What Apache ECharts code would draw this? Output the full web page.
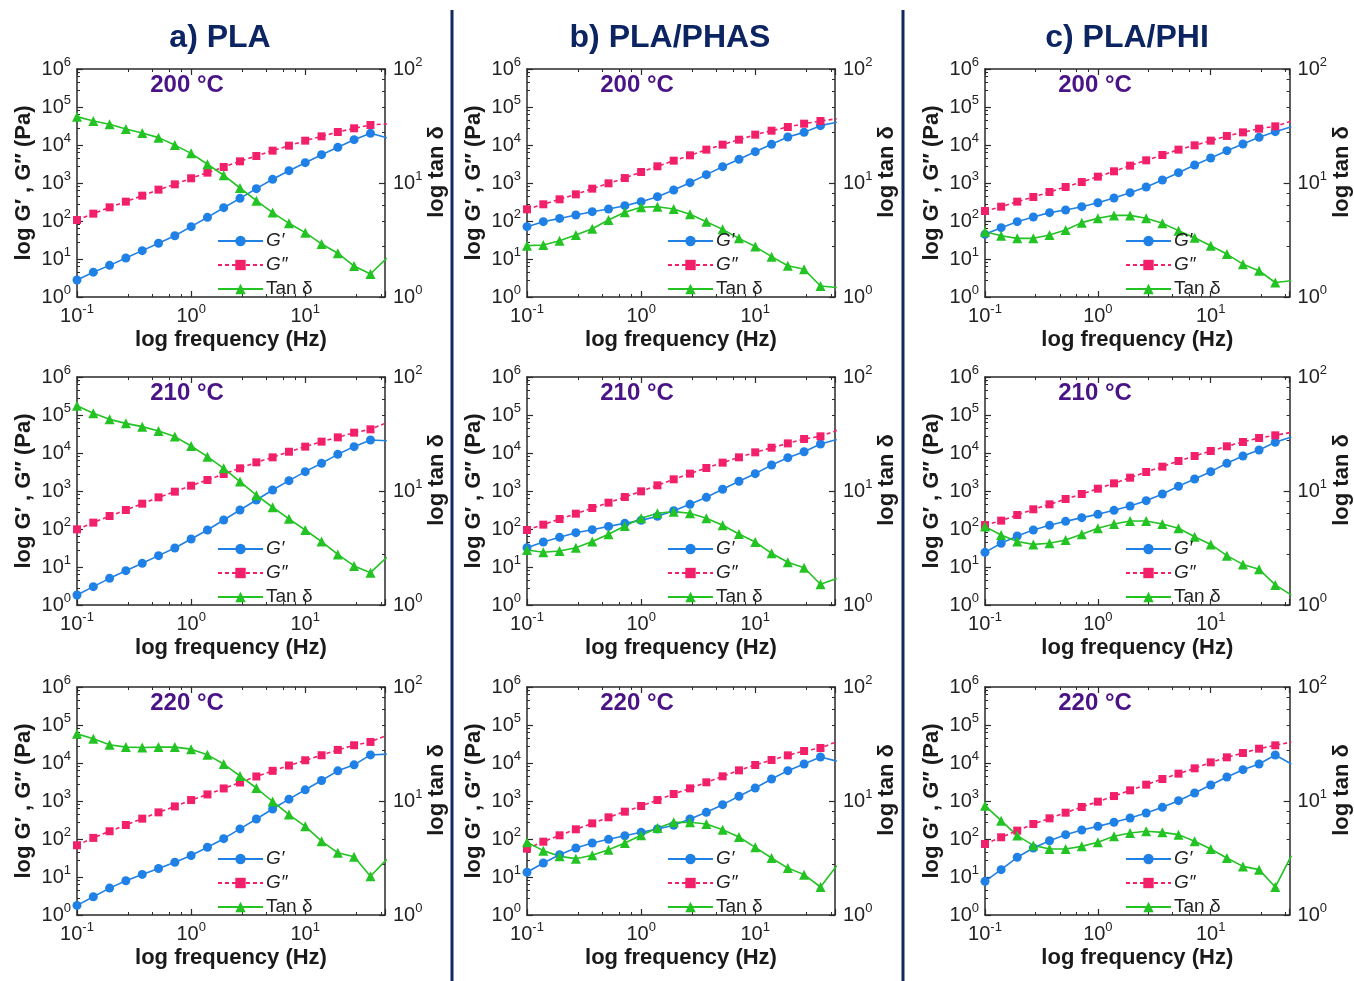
<!DOCTYPE html>
<html>
<head>
<meta charset="utf-8">
<script src="https://cdn.jsdelivr.net/npm/echarts@6/dist/echarts.min.js"></script>
<style>
html, body { margin: 0; padding: 0; background: #fff; }
#chart { width: 1354px; height: 981px; }
</style>
</head>
<body>
<div id="chart"></div>
<script>
// frequency sweep (Hz), 7 points per decade; last point sits just past the axis end
const freq = [0.1, 0.139, 0.193, 0.268, 0.373, 0.518, 0.72, 1, 1.39, 1.93, 2.68, 3.73, 5.18, 7.2, 10, 13.9, 19.3, 26.8, 37.3, 51.8];

// a) PLA
const pla200Gp  = [2.8, 4.5, 6.8, 10.6, 16.6, 26, 41, 71, 125, 224, 395, 710, 1250, 2110, 3430, 5570, 8690, 13800, 20300, 15500];
const pla200Gpp = [106, 156, 229, 323, 464, 668, 923, 1330, 1870, 2640, 3720, 5140, 7100, 9600, 13000, 16900, 22000, 27500, 33600, 36000];
const pla200Tan = [38.2, 35, 32.7, 29.8, 27.5, 25, 21.5, 18.2, 14.6, 11.7, 9.04, 7.0, 5.5, 4.43, 3.67, 2.92, 2.42, 1.87, 1.59, 2.19];

const pla210Gp  = [1.83, 3.04, 5.03, 8.0, 12.5, 19.9, 31.6, 54.6, 94, 173, 316, 580, 1060, 1870, 3230, 5350, 9220, 14700, 22000, 21000];
const pla210Gpp = [98, 147, 220, 316, 464, 681, 960, 1380, 1950, 2800, 3950, 5680, 7690, 10800, 14700, 19900, 25800, 34300, 42000, 63000];
const pla210Tan = [56, 48, 42.5, 39.2, 36.7, 33.6, 30, 24.8, 20, 15.8, 12.1, 9.2, 7.2, 5.7, 4.55, 3.6, 2.78, 2.2, 1.92, 2.62];

const pla220Gp  = [1.79, 3.03, 5.1, 7.95, 11.7, 16.7, 24.5, 36.7, 60.7, 102, 184, 336, 614, 1120, 1970, 3470, 6220, 8940, 16300, 17100];
const pla220Gpp = [68.5, 107, 160, 234, 343, 502, 721, 1060, 1490, 2140, 3070, 4420, 6220, 8590, 11800, 16000, 22100, 29300, 35800, 53800];
const pla220Tan = [38.8, 35.1, 31.1, 29.7, 29.5, 29.7, 29.7, 28.5, 25.4, 21.1, 16.6, 13.0, 9.9, 7.6, 6.0, 4.44, 3.51, 3.24, 2.19, 3.08];

// b) PLA/PHAS
const phas200Gp  = [71, 96, 117, 144, 176, 207, 253, 323, 437, 654, 1020, 1660, 2690, 4200, 6680, 10400, 16200, 21500, 32300, 39500];
const phas200Gpp = [203, 275, 372, 503, 710, 980, 1350, 1950, 2750, 3870, 5350, 7540, 10200, 13800, 18700, 23800, 29800, 36400, 42800, 49000];
const phas200Tan = [2.82, 2.86, 3.12, 3.5, 3.97, 4.73, 5.53, 6.12, 6.2, 5.92, 5.31, 4.58, 3.92, 3.27, 2.77, 2.26, 1.88, 1.75, 1.25, 1.21];

const phas210Gp  = [32.3, 45.5, 60.4, 80, 96, 117, 141, 169, 215, 303, 446, 681, 1110, 1800, 2860, 4830, 7540, 10800, 17300, 22600];
const phas210Gpp = [94, 130, 183, 253, 357, 493, 695, 980, 1410, 2030, 2860, 4030, 5570, 7690, 10400, 13800, 17900, 23400, 27500, 39400];
const phas210Tan = [3.04, 2.9, 2.98, 3.18, 3.6, 4.17, 4.93, 5.76, 6.37, 6.59, 6.37, 5.76, 5.0, 4.2, 3.57, 2.84, 2.37, 2.12, 1.52, 1.71];

const phas220Gp  = [13.3, 23.4, 38.7, 58, 78.5, 98, 122, 150, 183, 229, 336, 503, 801, 1330, 2200, 3790, 6290, 9420, 14400, 11200];
const phas220Gpp = [55.7, 85, 125, 180, 258, 372, 524, 738, 1060, 1530, 2150, 3100, 4460, 6410, 8850, 12000, 15900, 20700, 24800, 36500];
const phas220Tan = [4.34, 3.67, 3.27, 3.12, 3.34, 3.74, 4.28, 5.0, 5.8, 6.5, 6.5, 6.28, 5.6, 4.83, 3.92, 3.16, 2.58, 2.26, 1.76, 2.71];

// c) PLA/PHI
const phi200Gp  = [44.6, 66.8, 96, 127, 166, 195, 238, 303, 403, 557, 785, 1200, 1870, 2980, 4550, 7100, 10600, 15900, 22400, 30100];
const phi200Gpp = [183, 238, 323, 428, 580, 785, 1060, 1470, 2030, 2860, 3950, 5460, 7540, 9800, 13000, 17300, 21500, 26900, 31000, 42600];
const phi200Tan = [3.74, 3.45, 3.27, 3.27, 3.5, 3.87, 4.49, 4.9, 5.2, 5.2, 4.9, 4.43, 3.82, 3.31, 2.82, 2.38, 1.94, 1.7, 1.34, 1.39];

const phi210Gp  = [24.3, 42, 65.5, 94, 125, 159, 199, 243, 310, 403, 557, 834, 1330, 2070, 3230, 5350, 8340, 12000, 19100, 26200];
const phi210Gpp = [127, 166, 234, 330, 446, 615, 834, 1150, 1590, 2240, 3160, 4370, 6150, 8340, 11300, 15000, 19500, 24800, 29200, 34900];
const phi210Tan = [4.87, 4.11, 3.6, 3.4, 3.48, 3.72, 4.17, 4.71, 5.14, 5.46, 5.46, 5.14, 4.71, 3.97, 3.4, 2.71, 2.27, 2.06, 1.5, 1.22];

const phi220Gp  = [7.69, 15.6, 33, 58, 90, 130, 173, 215, 275, 357, 483, 681, 1020, 1620, 2640, 4280, 6680, 9420, 16200, 9440];
const phi220Gpp = [73.8, 111, 166, 248, 350, 493, 695, 960, 1350, 1910, 2690, 3790, 5240, 7240, 10400, 14100, 18300, 23800, 29200, 35700];
const phi220Tan = [9.1, 6.72, 4.97, 4.08, 3.79, 3.79, 4.0, 4.34, 4.9, 5.24, 5.42, 5.31, 5.07, 4.43, 3.79, 3.16, 2.67, 2.5, 1.76, 3.31];

const columnTitles = ['a) PLA', 'b) PLA/PHAS', 'c) PLA/PHI'];
const temps = ['200 °C', '210 °C', '220 °C'];
const seriesNames = ['G′', 'G″', 'Tan δ'];

const panels = [
  [pla200Gp, pla200Gpp, pla200Tan], [pla210Gp, pla210Gpp, pla210Tan], [pla220Gp, pla220Gpp, pla220Tan],
  [phas200Gp, phas200Gpp, phas200Tan], [phas210Gp, phas210Gpp, phas210Tan], [phas220Gp, phas220Gpp, phas220Tan],
  [phi200Gp, phi200Gpp, phi200Tan], [phi210Gp, phi210Gpp, phi210Tan], [phi220Gp, phi220Gpp, phi220Tan]
];

const FONT = '"Liberation Sans", Arial, sans-serif';
const colLeft = [77, 527, 985];
const rowTop = [69, 377, 687];
const gw = 308, gh = 228;
const axisColor = '#2a2a2a';
const cBlue = '#1f80e6', cPink = '#f2206b', cGreen = '#22c322';

const powLabel = v => '{b|10}{s|' + Math.round(Math.log10(v)) + '}';
const powRich = {
  b: { fontSize: 20, lineHeight: 26, color: '#222', fontFamily: FONT },
  s: { fontSize: 13, lineHeight: 14, verticalAlign: 'top', color: '#222', fontFamily: FONT }
};
const nameStyle = { fontSize: 22, fontWeight: 'bold', color: '#1a1a1a', fontFamily: FONT };
const lineAx = { lineStyle: { color: axisColor, width: 1.5 } };
const tickIn = { inside: true, length: 6, lineStyle: { color: axisColor, width: 1.2 } };
const minorIn = { show: true, length: 3, lineStyle: { color: axisColor, width: 1 } };

const grid = [], xAxis = [], yAxis = [], series = [], legend = [], graphic = [];

panels.forEach((p, i) => {
  const col = Math.floor(i / 3), row = i % 3;
  const left = colLeft[col], top = rowTop[row];
  grid.push({ left: left, top: top, width: gw, height: gh });

  xAxis.push({
    type: 'log', gridIndex: i, min: 0.1, max: 50,
    name: 'log frequency (Hz)', nameLocation: 'middle', nameGap: 32, nameTextStyle: nameStyle,
    axisLine: lineAx, axisTick: tickIn, minorTick: minorIn, splitLine: { show: false },
    axisLabel: { formatter: powLabel, rich: powRich, margin: 6, showMaxLabel: false }
  });
  xAxis.push({
    type: 'log', gridIndex: i, min: 0.1, max: 50, position: 'top',
    axisLine: lineAx, axisTick: tickIn, minorTick: minorIn, splitLine: { show: false },
    axisLabel: { show: false }
  });
  yAxis.push({
    type: 'log', gridIndex: i, min: 1, max: 1e6, position: 'left',
    name: 'log G′ , G″ (Pa)', nameLocation: 'middle', nameGap: 42, nameRotate: 90, nameTextStyle: nameStyle,
    axisLine: lineAx, axisTick: tickIn, minorTick: minorIn, splitLine: { show: false },
    axisLabel: { formatter: powLabel, rich: powRich, margin: 6 }
  });
  yAxis.push({
    type: 'log', gridIndex: i, min: 1, max: 100, position: 'right',
    name: 'log tan δ', nameLocation: 'middle', nameGap: 38, nameRotate: 90,
    nameTextStyle: Object.assign({}, nameStyle, { padding: [0, 0, 0, 22] }),
    axisLine: lineAx, axisTick: tickIn, minorTick: minorIn, splitLine: { show: false },
    axisLabel: { formatter: powLabel, rich: powRich, margin: 8 }
  });

  const mk = k => freq.map((f, j) => [f, p[k][j]]);
  series.push({
    name: 'G′', type: 'line', xAxisIndex: 2 * i, yAxisIndex: 2 * i, data: mk(0),
    symbol: 'circle', symbolSize: 9, color: cBlue, lineStyle: { width: 1.6, color: cBlue }
  });
  series.push({
    name: 'G″', type: 'line', xAxisIndex: 2 * i, yAxisIndex: 2 * i, data: mk(1),
    symbol: 'rect', symbolSize: 8, color: cPink, lineStyle: { width: 1.6, color: cPink, type: [4, 3] }
  });
  series.push({
    name: 'Tan δ', type: 'line', xAxisIndex: 2 * i, yAxisIndex: 2 * i + 1, data: mk(2),
    symbol: 'triangle', symbolSize: 10, color: cGreen, lineStyle: { width: 1.6, color: cGreen }
  });

  legend.push({
    data: seriesNames, orient: 'vertical', left: left + 135, top: top + 157,
    itemWidth: 45, itemHeight: 13, itemGap: 4, selectedMode: false,
    formatter: n => n === 'Tan δ' ? n : '{i|' + n + '}',
    textStyle: { fontSize: 19, lineHeight: 20, color: '#222', fontFamily: FONT, padding: [0, 0, 0, -2],
      rich: { i: { fontSize: 19, lineHeight: 20, fontStyle: 'italic', color: '#222', fontFamily: FONT } } }
  });

  graphic.push({
    type: 'text', x: left + 110, y: top + 16,
    style: { text: temps[row], fill: '#4a1486', font: 'bold 24px ' + FONT, textAlign: 'center', textVerticalAlign: 'middle' }
  });
});

columnTitles.forEach((t, c) => {
  graphic.push({
    type: 'text', x: colLeft[c] + 143 + (c === 2 ? -1 : 0), y: 38,
    style: { text: t, fill: '#0d2463', font: 'bold 32px ' + FONT, textAlign: 'center', textVerticalAlign: 'middle' }
  });
});
[452, 903].forEach(x => {
  graphic.push({ type: 'line', shape: { x1: x, y1: 10, x2: x, y2: 981 }, style: { stroke: '#12285e', lineWidth: 3 } });
});

const chart = echarts.init(document.getElementById('chart'));
chart.setOption({
  animation: false,
  backgroundColor: '#fff',
  textStyle: { fontFamily: FONT },
  grid, xAxis, yAxis, series, legend, graphic
});
</script>
</body>
</html>
